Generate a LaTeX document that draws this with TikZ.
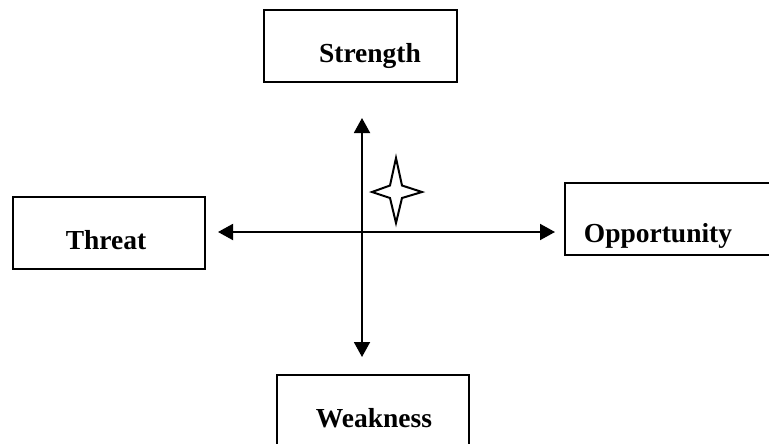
\documentclass[tikz,border=0pt]{standalone}
\usepackage{fontspec}
\setmainfont{Liberation Serif}
\usetikzlibrary{arrows.meta}
\begin{document}
\begin{tikzpicture}[x=1pt,y=-1pt,
  swotbox/.style={draw=black,line width=2.3pt,fill=white,inner sep=0pt,outer sep=0pt},
  swottext/.style={anchor=base,inner sep=0pt,font=\fontsize{27.5}{30}\selectfont\bfseries},
  axis/.style={line width=1.9pt,-{Triangle[length=15pt,width=16pt]}}]
\useasboundingbox (0,0) rectangle (769,444);
% four boxes
\node[swotbox,minimum width=193pt,minimum height=72pt] (sbox) at (360.5,46) {};
\node[swotbox,minimum width=192pt,minimum height=72pt] (tbox) at (109,233) {};
\node[swotbox,minimum width=220pt,minimum height=72pt] (obox) at (675,219) {};
\node[swotbox,minimum width=192pt,minimum height=90pt] (wbox) at (373,420) {};
% labels
\node[swottext] (stxt) at (370,63) {Strength};
\node[swottext] (ttxt) at (106,249) {Threat};
\node[swottext] (otxt) at (658,242) {Opportunity};
\node[swottext] (wtxt) at (374,427) {Weakness};
% cross of arrows
\coordinate (ctr) at (362,232);
\coordinate (up) at (362,118);
\coordinate (down) at (362,357);
\coordinate (left) at (218,232);
\coordinate (right) at (555,232);
\draw[axis] (ctr) -- (up);
\draw[axis] (ctr) -- (down);
\draw[axis] (ctr) -- (left);
\draw[axis] (ctr) -- (right);
% four-pointed star
\draw[line width=2pt,line join=miter,fill=white]
  (396,158) -- (402,185.5) -- (422,192) -- (402,198) -- (396,223)
  -- (390,198) -- (372,192) -- (390,185.5) -- cycle;
\end{tikzpicture}
\end{document}
